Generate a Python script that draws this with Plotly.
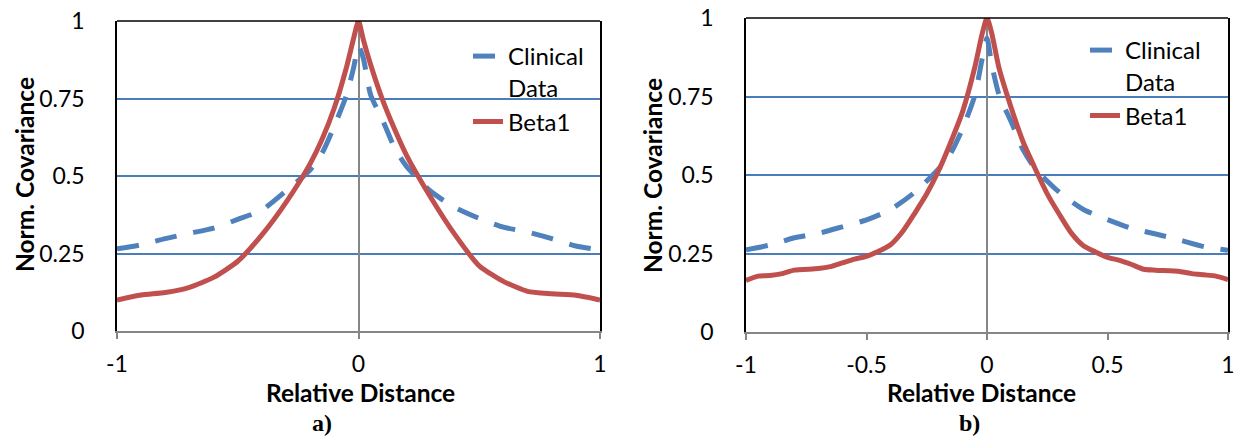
import plotly.graph_objects as go

W, H = 1236, 438

# ---------------- data ----------------
# panel a)
x_clin_a = [-1, -0.9, -0.8, -0.7, -0.6, -0.5, -0.4, -0.3, -0.2, -0.15, -0.1, -0.05, -0.02, 0,
            0.02, 0.05, 0.1, 0.15, 0.2, 0.3, 0.4, 0.5, 0.6, 0.7, 0.8, 0.9, 1]
y_clin_a = [0.265, 0.278, 0.298, 0.315, 0.332, 0.36, 0.39, 0.452, 0.52, 0.575, 0.662, 0.76, 0.85, 0.92,
            0.88, 0.762, 0.68, 0.59, 0.53, 0.45, 0.398, 0.363, 0.335, 0.319, 0.298, 0.274, 0.262]
x_beta_a = [-1, -0.9, -0.8, -0.7, -0.6, -0.5, -0.4, -0.3, -0.2, -0.15, -0.1, -0.05, -0.02, 0,
            0.02, 0.05, 0.1, 0.15, 0.2, 0.3, 0.4, 0.5, 0.6, 0.7, 0.8, 0.9, 1]
y_beta_a = [0.10, 0.116, 0.124, 0.141, 0.173, 0.225, 0.31, 0.415, 0.54, 0.62, 0.72, 0.85, 0.945, 1.0,
            0.94, 0.86, 0.745, 0.65, 0.565, 0.43, 0.31, 0.21, 0.16, 0.128, 0.12, 0.115, 0.10]

# panel b)
x_clin_b = [-1, -0.9, -0.8, -0.7, -0.6, -0.5, -0.4, -0.3, -0.2, -0.15, -0.1, -0.05, -0.02, 0,
            0.02, 0.05, 0.1, 0.15, 0.2, 0.3, 0.4, 0.5, 0.6, 0.7, 0.8, 0.9, 1]
y_clin_b = [0.262, 0.277, 0.30, 0.314, 0.335, 0.357, 0.39, 0.445, 0.52, 0.57, 0.65, 0.755, 0.87, 0.936,
            0.85, 0.755, 0.67, 0.58, 0.52, 0.445, 0.39, 0.358, 0.33, 0.312, 0.293, 0.272, 0.26]
x_beta_b = [-1, -0.95, -0.9, -0.85, -0.8, -0.7, -0.65, -0.6, -0.55, -0.5, -0.45, -0.4, -0.35, -0.3,
            -0.25, -0.2, -0.15, -0.1, -0.05, -0.02, 0, 0.02, 0.05, 0.1, 0.15, 0.2, 0.25, 0.3, 0.35,
            0.4, 0.45, 0.5, 0.55, 0.6, 0.65, 0.7, 0.8, 0.85, 0.9, 0.95, 1]
y_beta_b = [0.164, 0.178, 0.18, 0.186, 0.197, 0.202, 0.208, 0.22, 0.232, 0.241, 0.257, 0.278, 0.32, 0.378,
            0.44, 0.515, 0.605, 0.705, 0.845, 0.95, 1.0, 0.95, 0.84, 0.715, 0.605, 0.52, 0.44, 0.375, 0.315,
            0.275, 0.255, 0.238, 0.228, 0.215, 0.2, 0.197, 0.193, 0.186, 0.182, 0.178, 0.167]

y_ticks = [0, 0.25, 0.5, 0.75, 1]
y_tick_labels = ["0", "0.25", "0.5", "0.75", "1"]
x_ticks_a = [-1, 0, 1]
x_tick_labels_a = ["-1", "0", "1"]
x_ticks_b = [-1, -0.5, 0, 0.5, 1]
x_tick_labels_b = ["-1", "-0.5", "0", "0.5", "1"]

series_names = ["Clinical<br>Data", "Beta1"]
panel_labels = ["a)", "b)"]
x_title = "Relative Distance"
y_title = "Norm. Covariance"

BLUE = "#4F81BD"
RED = "#C0504D"
GRID = "#4A7EBB"
GRAY = "#868686"
FONT = "Lato"

fig = go.Figure()

fig.add_trace(go.Scatter(x=x_clin_a, y=y_clin_a, mode="lines", name=series_names[0],
                         line=dict(color=BLUE, width=5, dash="22px,17px", shape="spline", smoothing=0.6),
                         xaxis="x", yaxis="y", legend="legend"))
fig.add_trace(go.Scatter(x=x_beta_a, y=y_beta_a, mode="lines", name=series_names[1],
                         line=dict(color=RED, width=5, shape="spline", smoothing=0.6),
                         xaxis="x", yaxis="y", legend="legend"))
fig.add_trace(go.Scatter(x=x_clin_b, y=y_clin_b, mode="lines", name=series_names[0],
                         line=dict(color=BLUE, width=5, dash="22px,17px", shape="spline", smoothing=0.6),
                         xaxis="x2", yaxis="y2", legend="legend2"))
fig.add_trace(go.Scatter(x=x_beta_b, y=y_beta_b, mode="lines", name=series_names[1],
                         line=dict(color=RED, width=5, shape="spline", smoothing=0.6),
                         xaxis="x2", yaxis="y2", legend="legend2"))

dom_a_x = [117 / W, 600 / W]
dom_b_x = [746 / W, 1228 / W]
dom_a_y = [(H - 331) / H, (H - 21) / H]
dom_b_y = [(H - 332) / H, (H - 18) / H]

tickfont = dict(family=FONT, size=23, color="black")


def xaxis(domain, anchor, tv, tt):
    return dict(domain=domain, anchor=anchor, range=[-1, 1], tickvals=tv, ticktext=tt,
                showgrid=False, zeroline=True, zerolinecolor=GRAY, zerolinewidth=2,
                showline=True, linecolor=GRAY, linewidth=2,
                ticks="outside", ticklen=6, tickcolor=GRAY, tickwidth=1.5,
                tickfont=tickfont, ticklabelstandoff=5, automargin=False, fixedrange=True)


def yaxis(domain, anchor):
    return dict(domain=domain, anchor=anchor, range=[0, 1], tickvals=y_ticks, ticktext=y_tick_labels,
                showgrid=True, gridcolor=GRID, gridwidth=1.5, zeroline=False,
                showline=True, linecolor="black", linewidth=1.5, mirror=True,
                ticks="", tickfont=tickfont, ticklabelstandoff=26, automargin=False, fixedrange=True)


legend_font = dict(family=FONT, size=24, color="black")
title_font = dict(family=FONT, size=24.5, color="black")
panel_font = dict(family="Liberation Serif", size=24, color="black")

fig.update_layout(
    width=W, height=H,
    margin=dict(l=0, r=0, t=0, b=0, autoexpand=False),
    paper_bgcolor="white", plot_bgcolor="white",
    xaxis=xaxis(dom_a_x, "y", x_ticks_a, x_tick_labels_a),
    yaxis=yaxis(dom_a_y, "x"),
    xaxis2=xaxis(dom_b_x, "y2", x_ticks_b, x_tick_labels_b),
    yaxis2=yaxis(dom_b_y, "x2"),
    legend=dict(x=468 / W, y=1 - 34 / H, xanchor="left", yanchor="top", bgcolor="rgba(0,0,0,0)",
                font=legend_font, valign="top", tracegroupgap=0),
    legend2=dict(x=1085 / W, y=1 - 28 / H, xanchor="left", yanchor="top", bgcolor="rgba(0,0,0,0)",
                 font=legend_font, valign="top", tracegroupgap=0),
    shapes=[
        dict(type="line", xref="x domain", yref="y domain", x0=0, x1=1, y0=1, y1=1,
             line=dict(color="black", width=1.5)),
        dict(type="line", xref="x2 domain", yref="y2 domain", x0=0, x1=1, y0=1, y1=1,
             line=dict(color="black", width=1.5)),
    ],
    annotations=[
        dict(text="<b>%s</b>" % x_title, x=360 / W, y=1 - 392 / H, xref="paper", yref="paper",
             showarrow=False, font=title_font, xanchor="center", yanchor="middle"),
        dict(text="<b>%s</b>" % x_title, x=981 / W, y=1 - 392 / H, xref="paper", yref="paper",
             showarrow=False, font=title_font, xanchor="center", yanchor="middle"),
        dict(text="<b>%s</b>" % y_title, x=24 / W, y=1 - 175 / H, xref="paper", yref="paper", textangle=-90,
             showarrow=False, font=title_font, xanchor="center", yanchor="middle"),
        dict(text="<b>%s</b>" % y_title, x=652 / W, y=1 - 175 / H, xref="paper", yref="paper", textangle=-90,
             showarrow=False, font=title_font, xanchor="center", yanchor="middle"),
        dict(text="<b>%s</b>" % panel_labels[0], x=322 / W, y=1 - 423 / H, xref="paper", yref="paper",
             showarrow=False, font=panel_font, xanchor="center", yanchor="middle"),
        dict(text="<b>%s</b>" % panel_labels[1], x=969 / W, y=1 - 423 / H, xref="paper", yref="paper",
             showarrow=False, font=panel_font, xanchor="center", yanchor="middle"),
    ],
)

fig.write_html("out.html", config={"displayModeBar": False},
               post_script="document.body.style.margin='0';")
